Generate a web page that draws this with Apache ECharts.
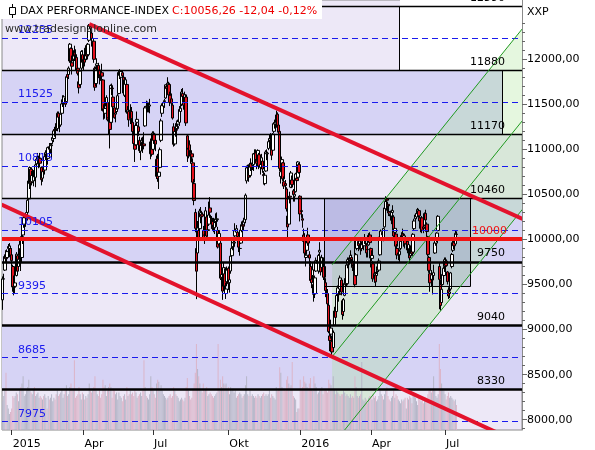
<!DOCTYPE html>
<html><head><meta charset="utf-8">
<script src="https://cdn.jsdelivr.net/npm/echarts@6/dist/echarts.min.js"></script>
<style>html,body{margin:0;padding:0;background:#fff}#c{width:595px;height:450px}</style>
</head><body><div id="c"></div>
<script>
// ---------- DATA ----------
// candles: [open, close, low, high]
const m201412=[[9330,9563,9219,9590],[9560,9564,9420,9620],[9660,9811,9650,9830],[9830,9787,9740,9880],[9800,9865,9760,9890],[9900,9922,9860,9950],[9900,9927,9850,9960],[9900,9806,9780,9930]];
const m201501=[[9830,9765,9700,9900],[9700,9473,9420,9720],[9480,9469,9380,9600],[9480,9518,9400,9570],[9600,9837,9590,9860],[9820,9648,9620,9830],[9700,9781,9680,9800],[9820,9941,9780,10010],[9900,9817,9650,9920],[9800,10032,9740,10050],[10050,10167,9950,10190],[10170,10242,10130,10260],[10240,10257,10140,10290],[10250,10299,10200,10350],[10300,10435,10210,10460],[10450,10649,10440,10680],[10620,10798,10560,10810],[10780,10628,10590,10800],[10640,10710,10600,10760],[10650,10738,10590,10770],[10760,10694,10650,10810]];
const m201502=[[10690,10828,10580,10840],[10840,10891,10780,10920],[10900,10911,10840,10960],[10880,10905,10790,10930],[10900,10846,10800,10960],[10800,10663,10600,10810],[10680,10753,10640,10780],[10790,10752,10700,10830],[10770,10919,10720,10960],[10930,10963,10880,10990],[10950,10924,10880,10990],[10900,11019,10830,11030],[11030,11001,10960,11070],[11000,11050,10950,11070],[11040,11050,10900,11070],[11100,11131,11060,11150],[11120,11205,11080,11220],[11220,11211,11140,11250],[11220,11210,11150,11290],[11230,11401,11200,11420]];
const m201503=[[11400,11356,11300,11420],[11340,11280,11190,11360],[11270,11390,11250,11400],[11400,11504,11370,11520],[11520,11551,11470,11600],[11520,11582,11460,11600],[11570,11500,11470,11610],[11530,11806,11520,11810],[11830,11799,11730,11860],[11830,11901,11780,11920],[11980,12167,11960,12180],[12120,11980,11930,12130],[11960,11922,11830,12040],[12000,12036,11940,12100],[12070,12039,11980,12150],[12050,12040,11990,12110],[12020,11876,11860,12050],[11900,11843,11820,11940],[11750,11683,11620,11800],[11720,11868,11700,11880],[11900,12086,11880,12100],[12050,11966,11930,12100]];
const m201504=[[11970,11998,11870,12030],[12000,11967,11920,12050],[12000,12123,11990,12150],[12150,12035,11990,12170],[12050,12166,12020,12180],[12210,12375,12190,12390],[12370,12339,12290,12390],[12290,12227,12140,12330],[12200,12231,12130,12290],[12200,11999,11960,12210],[11900,11689,11650,11920],[11730,11892,11700,11920],[11930,11949,11870,12010],[11930,11868,11790,11960],[11880,11811,11720,11900],[11830,11810,11760,11880],[11850,11812,11770,11950],[11770,11432,11420,11780],[11450,11432,11330,11500],[11400,11454,11340,11530]];
const m201505=[[11480,11575,11440,11600],[11520,11327,11310,11560],[11350,11350,11160,11430],[11300,11221,11010,11310],[11300,11709,11290,11720],[11680,11673,11600,11730],[11580,11472,11300,11600],[11460,11351,11340,11530],[11390,11403,11300,11440],[11420,11447,11400,11530],[11450,11595,11420,11620],[11620,11853,11610,11870],[11820,11848,11780,11890],[11800,11864,11760,11880],[11850,11815,11790,11880],[11800,11625,11600,11820],[11600,11771,11580,11800],[11720,11772,11680,11800],[11720,11413,11400,11740]];
const m201506=[[11400,11436,11330,11480],[11420,11327,11250,11470],[11340,11419,11280,11500],[11420,11340,11250,11470],[11300,11197,11150,11360],[11160,11065,11030,11220],[11050,11001,10860,11080],[11050,11265,11040,11290],[11300,11333,11260,11420],[11250,11197,11150,11300],[11100,10985,10960,11140],[10980,11045,10880,11080],[11080,11100,10990,11130],[11050,11041,10960,11140],[11060,11040,11000,11190],[11260,11460,11250,11480],[11480,11472,11420,11540],[11470,11471,11410,11530],[11470,11473,11410,11520],[11480,11492,11400,11560],[10950,11083,10890,11120],[11100,10945,10920,11150]];
const m201507=[[11000,11180,10990,11200],[11170,11099,11060,11200],[11100,11058,10980,11140],[10700,10890,10670,10930],[10900,10676,10640,10950],[10700,10747,10560,10790],[10800,10996,10790,11020],[11100,11316,11080,11340],[11400,11485,11360,11510],[11480,11516,11440,11540],[11530,11539,11460,11560],[11570,11716,11560,11720],[11700,11673,11630,11730],[11690,11734,11660,11800],[11720,11604,11580,11750],[11600,11521,11480,11640],[11560,11512,11460,11620],[11490,11347,11330,11520],[11250,11056,11030,11290],[11060,11198,11040,11230],[11220,11212,11140,11290],[11230,11257,11120,11320],[11280,11308,11230,11330]];
const m201508=[[11300,11443,11260,11480],[11420,11456,11370,11520],[11500,11636,11480,11670],[11620,11585,11540,11680],[11570,11490,11440,11600],[11520,11605,11490,11640],[11580,11293,11260,11610],[11150,10925,10860,11170],[11000,11014,10900,11120],[11050,10985,10920,11100],[10960,10940,10840,11010],[10950,10915,10860,10990],[10850,10636,10600,10900],[10620,10432,10380,10670],[10300,10124,10080,10340],[9900,9648,9338,10000],[9850,10128,9800,10205],[10100,9997,9900,10230],[10120,10315,10080,10340],[10250,10298,10180,10360],[10280,10259,10150,10310]];
const m201509=[[10100,10016,9990,10150],[10050,10048,9950,10130],[10080,10318,10070,10360],[10250,10038,10000,10290],[10100,10108,10030,10180],[10170,10271,10150,10420],[10350,10303,10240,10470],[10220,10210,10120,10260],[10200,10123,10100,10240],[10160,10131,10080,10240],[10130,10188,10060,10230],[10200,10227,10140,10290],[10220,10229,10140,10300],[10100,9916,9900,10140],[9950,10066,9930,10100],[9960,9571,9550,9990],[9580,9612,9500,9700],[9550,9427,9330,9590],[9480,9688,9470,9740],[9620,9484,9420,9680],[9400,9450,9340,9520],[9530,9660,9500,9700]];
const m201510=[[9680,9509,9440,9700],[9520,9553,9410,9600],[9650,9815,9620,9830],[9820,9902,9780,9930],[9920,9994,9880,10020],[9960,9970,9880,10030],[10040,10096,10020,10180],[10080,10119,10060,10160],[10080,10032,9980,10120],[9990,9915,9860,10020],[9900,9900,9820,9960],[9960,10104,9950,10120],[10100,10164,10080,10200],[10160,10147,10090,10210],[10190,10238,10150,10280],[10220,10491,10180,10510],[10650,10795,10620,10820],[10800,10801,10740,10830],[10760,10692,10640,10780],[10710,10832,10690,10850],[10840,10801,10760,10900],[10820,10850,10770,10880]];
const m201511=[[10830,10951,10760,10960],[10950,10951,10880,11000],[10960,10887,10850,11000],[10870,10845,10780,10930],[10880,10988,10850,11000],[10940,10815,10780,10960],[10800,10832,10720,10860],[10860,10907,10830,10950],[10870,10782,10740,10900],[10720,10708,10610,10760],[10620,10713,10600,10740],[10760,10971,10750,10990],[10950,10959,10880,11000],[11010,11085,10990,11120],[11100,11119,11050,11160],[11100,11092,11050,11180],[11060,10934,10880,11090],[10990,11169,10980,11180],[11200,11285,11180,11300],[11280,11293,11230,11330],[11300,11382,11240,11430]];
const m201512=[[11390,11261,11230,11410],[11270,11190,11130,11300],[11200,10789,10760,11240],[10700,10752,10620,10810],[10800,10886,10780,10920],[10850,10673,10650,10860],[10640,10592,10560,10700],[10620,10598,10530,10660],[10560,10340,10310,10580],[10260,10139,10000,10310],[10170,10451,10160,10480],[10480,10469,10400,10530],[10580,10738,10570,10760],[10660,10608,10570,10710],[10540,10497,10420,10560],[10480,10502,10420,10550],[10530,10727,10520,10740],[10680,10653,10600,10700],[10690,10860,10680,10870],[10830,10743,10730,10850]];
const m201601=[[10480,10283,10200,10490],[10320,10310,10240,10400],[10230,10214,10130,10280],[10050,9979,9890,10120],[10000,9849,9810,10070],[9800,9825,9700,9920],[9880,9985,9830,10050],[10050,9960,9930,10130],[9830,9794,9700,9870],[9700,9545,9520,9760],[9560,9521,9460,9600],[9600,9664,9560,9740],[9500,9392,9310,9600],[9400,9574,9350,9600],[9650,9764,9640,9800],[9770,9736,9700,9800],[9650,9823,9620,9840],[9860,9880,9800,9970],[9800,9640,9600,9810],[9690,9798,9640,9830]];
const m201602=[[9760,9757,9680,9800],[9700,9581,9550,9720],[9520,9434,9360,9570],[9400,9393,9330,9480],[9400,9286,9260,9450],[9270,8979,8960,9300],[8930,8879,8760,9000],[8950,9017,8900,9110],[8870,8752,8699,8900],[8800,8967,8780,8990],[9050,9206,9040,9220],[9250,9135,9100,9330],[9200,9378,9180,9400],[9400,9463,9360,9490],[9400,9388,9310,9430],[9450,9573,9440,9600],[9550,9416,9380,9570],[9320,9167,9110,9340],[9200,9331,9150,9350],[9380,9513,9370,9570],[9500,9495,9420,9580]];
const m201603=[[9510,9717,9480,9740],[9720,9776,9680,9800],[9750,9751,9700,9800],[9780,9824,9750,9880],[9800,9778,9690,9830],[9750,9692,9650,9790],[9700,9723,9640,9760],[9760,9498,9470,9990],[9600,9831,9590,9850],[9900,9990,9880,10020],[9980,9933,9870,9990],[9950,9983,9900,10000],[9950,9892,9830,9990],[9900,9950,9870,9980],[9940,9948,9900,10000],[9930,9990,9880,10010],[9990,10022,9950,10060],[9930,9851,9800,9960],[9890,9887,9800,9930],[9940,10046,9930,10070],[10050,9965,9950,10080]];
const m201604=[[9900,9794,9690,9910],[9790,9822,9760,9880],[9730,9563,9530,9760],[9570,9624,9520,9650],[9610,9530,9480,9640],[9600,9622,9560,9700],[9650,9682,9610,9730],[9660,9761,9640,9790],[9830,10027,9820,10040],[10020,10093,10010,10110],[10080,10051,10010,10120],[10000,10120,9980,10130],[10140,10350,10130,10360],[10340,10421,10300,10480],[10450,10435,10320,10470],[10390,10373,10300,10420],[10310,10294,10260,10380],[10280,10260,10210,10320],[10260,10299,10170,10330],[10300,10321,10200,10380],[10250,10039,10020,10270]];
const m201605=[[10080,10123,9990,10160],[10060,9926,9880,10080],[9900,9828,9780,9950],[9830,9851,9770,9900],[9830,9870,9740,9890],[9900,9980,9880,10000],[10010,10045,9960,10080],[10060,10021,9990,10120],[10010,10041,9920,10070],[10010,9952,9900,10030],[9950,9952,9880,9990],[9980,9890,9870,10010],[9850,9943,9820,9960],[9900,9795,9750,9910],[9820,9916,9810,9930],[9930,9842,9820,9960],[9860,10057,9850,10070],[10120,10205,10100,10230],[10230,10272,10200,10290],[10250,10287,10230,10300],[10290,10333,10280,10350],[10320,10262,10240,10340]];
const m201606=[[10240,10205,10120,10260],[10190,10208,10080,10220],[10240,10103,10070,10260],[10140,10121,10070,10200],[10160,10288,10150,10300],[10290,10217,10200,10330],[10170,10088,10030,10190],[10030,9834,9810,10040],[9800,9657,9630,9820],[9620,9519,9420,9650],[9550,9607,9480,9660],[9560,9550,9390,9600],[9600,9631,9550,9720],[9850,9962,9840,10000],[9960,10015,9930,10060],[10020,10071,9970,10080],[10100,10257,10090,10270],[9700,9557,9226,9750],[9500,9268,9210,9550],[9300,9448,9280,9470],[9500,9612,9490,9630],[9600,9680,9560,9700]];
const m201607=[[9700,9776,9640,9800],[9760,9709,9650,9800],[9640,9532,9500,9650],[9440,9373,9340,9470],[9400,9418,9350,9510],[9450,9629,9430,9640],[9700,9833,9680,9850],[9880,9964,9860,9990],[9970,9930,9890,10010],[9950,10068,9940,10100],[10060,10056,10000,10090]];

// volume (millions)
const v201412=[80,95,110,160,70,60,45,50];
const v201501=[60,95,90,95,105,100,80,110,120,130,150,95,100,110,120,140,110,105,100,115,120];
const v201502=[95,100,105,90,95,90,85,95,100,90,60,95,85,90,100,80,90,85,100,110];
const v201503=[95,100,105,115,90,100,110,125,95,100,120,130,110,115,195,90,95,100,120,100,85,105];
const v201504=[100,85,95,90,100,130,110,105,110,120,150,110,100,95,110,90,100,140,120,125];
const v201505=[95,110,120,130,120,90,115,110,100,105,85,105,95,90,80,95,100,85,120];
const v201506=[95,100,110,100,105,95,110,105,90,95,100,105,95,110,195,120,95,90,85,100,150,120];
const v201507=[110,100,90,130,140,135,115,125,110,100,95,90,85,90,95,100,90,95,120,110,100,95,90];
const v201508=[80,85,90,85,80,90,120,145,110,95,85,90,115,130,160,240,170,150,130,110,105];
const v201509=[130,110,115,120,95,100,105,100,95,90,95,100,105,240,110,140,120,150,130,125,130,115];
const v201510=[120,100,120,110,115,105,110,90,95,100,105,100,90,95,100,125,150,100,95,110,95,100];
const v201511=[95,90,95,90,100,95,90,95,100,105,95,100,95,100,110,90,100,95,90,85,120];
const v201512=[110,115,175,160,120,110,115,110,140,150,130,120,125,190,95,90,85,50,60,60];
const v201601=[140,115,120,150,135,130,120,115,130,145,115,110,150,130,120,100,105,110,115,120];
const v201602=[100,110,115,110,105,140,130,125,110,150,115,100,110,105,100,95,100,100,110,105,95];
const v201603=[100,95,90,100,90,95,90,150,120,95,90,95,100,190,85,80,90,85,75,90,95];
const v201604=[95,85,100,90,95,80,85,95,110,100,95,85,100,110,120,95,85,80,90,95,110];
const v201605=[90,100,95,85,80,75,85,80,85,90,60,90,85,95,90,75,95,100,90,80,70,95];
const v201606=[85,80,90,75,85,90,85,100,110,115,105,110,150,110,95,90,100,240,170,130,115,110];
const v201607=[100,85,95,105,90,95,90,85,80,85,70];

// calendar
const firstDay='2014-12-16', lastDay='2016-07-15';
const holidays=['2014-12-24','2014-12-25','2014-12-26','2014-12-31','2015-01-01','2015-04-03','2015-04-06','2015-05-01','2015-05-25','2015-12-24','2015-12-25','2015-12-31','2016-01-01','2016-03-25','2016-03-28'];
const padSlots=57;
const xTicks=[['2015-01-02','2015'],['2015-04-01','Apr'],['2015-07-01','Jul'],['2015-10-01','Okt'],['2016-01-04','2016'],['2016-04-01','Apr'],['2016-07-01','Jul']];
const yLabels=[8000,8500,9000,9500,10000,10500,11000,11500,12000];
const yMinorTicks=[7900,8100,8200,8300,8400,8600,8700,8800,8900,9100,9200,9300,9400,9600,9700,9800,9900,10100,10200,10300,10400,10600,10700,10800,10900,11100,11200,11300,11400,11600,11700,11800,11900,12100,12200,12300,12400];

// levels
const solidLevels=[12590,11880,11170,10460,9750,9040,8330];
const dashedLevels=[12235,11525,10815,10105,9395,8685,7975];
const keyLevel=10000;
// shaded bands [fromIdx, toIdx, top, bottom]
const darkBands=[[-0.5,438.8,11880,11170],[-0.5,455.5,10460,9750],[-0.5,455.5,9040,8330]];
const whiteBoxes=[[348.5,455.5,12657,11880],[438.8,455.5,11880,11170]];
const rangeBox=[282.7,409.9,10460,9473];
// trend lines [[idx,value],[idx,value]]
const trendUpper=[[76,12390],[456,10228]];
const trendLower=[[-1,10387],[456,7727]];
const chanTop=[[289,9719],[456,12341]];
const chanMid=[[289,8699],[456,11321]];
const chanBot=[[289,7714],[456,10336]];

const Y_MIN=7886, Y_MAX=12657;
const FONT='11px "DejaVu Sans"';

// ---------- build ----------
const ohlc=[].concat(m201412,m201501,m201502,m201503,m201504,m201505,m201506,m201507,m201508,m201509,m201510,m201511,m201512,m201601,m201602,m201603,m201604,m201605,m201606,m201607);
const vols=[].concat(v201412,v201501,v201502,v201503,v201504,v201505,v201506,v201507,v201508,v201509,v201510,v201511,v201512,v201601,v201602,v201603,v201604,v201605,v201606,v201607);
const cats=[];
(function(){const hol=new Set(holidays);let t=Date.parse(firstDay+'T00:00:00Z');const end=Date.parse(lastDay+'T00:00:00Z');
 while(t<=end){const d=new Date(t);const wd=d.getUTCDay();const s=d.toISOString().slice(0,10);if(wd!==0&&wd!==6&&!hol.has(s))cats.push(s);t+=86400000;}
 for(let i=0;i<padSlots;i++)cats.push('pad'+i);})();
const tickMap={};xTicks.forEach(t=>tickMap[t[0]]=t[1]);

function helpers(api){const x0=api.coord([0,Y_MIN])[0];const bw=api.size([1,0])[0];return{X:i=>x0+i*bw,Y:v=>api.coord([0,v])[1]};}
const snap=(p,w)=>(Math.round(w)%2===1)?Math.round(p-0.5)+0.5:Math.round(p);

function renderBg(params,api){
 const {X,Y}=helpers(api);const kids=[];
 const rect=(b,fill)=>{const x1=X(b[0]),x2=X(b[1]),y1=Y(b[2]),y2=Y(b[3]);kids.push({type:'rect',shape:{x:Math.min(x1,x2),y:Math.min(y1,y2),width:Math.abs(x2-x1),height:Math.abs(y2-y1)},style:{fill:fill}});};
 darkBands.forEach(b=>rect(b,'#d6d3f5'));
 whiteBoxes.forEach(b=>rect(b,'#ffffff'));
 const poly=[chanTop[0],chanTop[1],chanBot[1],chanBot[0]].map(p=>[X(p[0]),Y(p[1])]);
 kids.push({type:'polygon',shape:{points:poly},style:{fill:'rgba(170,228,150,0.30)'}});
 rect(rangeBox,'rgba(95,105,170,0.22)');
 return {type:'group',children:kids};
}
function renderLines(params,api){
 const {X,Y}=helpers(api);const kids=[];
 const xl=X(-0.5), xr=X(455.5);
 const hline=(v,color,w,dash)=>{const y=snap(Y(v),w);kids.push({type:'line',shape:{x1:xl,y1:y,x2:xr,y2:y},style:{stroke:color,lineWidth:w,lineDash:dash||null}});};
 const vline=(i,v1,v2)=>{const x=snap(X(i),1);kids.push({type:'line',shape:{x1:x,y1:Y(v1),x2:x,y2:Y(v2)},style:{stroke:'#000',lineWidth:1}});};
 const seg=(a,color,w)=>kids.push({type:'line',shape:{x1:X(a[0][0]),y1:Y(a[0][1]),x2:X(a[1][0]),y2:Y(a[1][1])},style:{stroke:color,lineWidth:w}});
 const txt=(s,x,v,color,align,dy)=>kids.push({type:'text',style:{text:s,x:x,y:Y(v)-dy,fill:color,font:FONT,align:align,verticalAlign:'bottom'}});
 dashedLevels.forEach(v=>hline(v,'#1a1aee',1,[6,4]));
 solidLevels.forEach((v,i)=>hline(v,'#000',i<4?1.4:2.6));
 vline(348.5,12590,11880); vline(438.8,11880,11170);
 const rx1=snap(X(rangeBox[0]),1),rx2=snap(X(rangeBox[1]),1),ry1=snap(Y(rangeBox[2]),1),ry2=snap(Y(rangeBox[3]),1);
 kids.push({type:'rect',shape:{x:rx1,y:ry1,width:rx2-rx1,height:ry2-ry1},style:{fill:null,stroke:'#000',lineWidth:1}});
 seg(chanTop,'#1f9a1f',1); seg(chanMid,'#1f9a1f',1); seg(chanBot,'#1f9a1f',1);
 hline(keyLevel,'#f01414',4);
 seg(trendUpper,'#e3122c',4); seg(trendLower,'#e3122c',4);
 const lx=X(-0.5)+16, rxLab=X(438.8)+2;
 dashedLevels.forEach(v=>txt(String(v),lx,v,'#1a1aee','left',2));
 solidLevels.forEach((v,i)=>txt(String(v),rxLab,v,'#000','right',i<4?2:3));
 txt(String(keyLevel),rxLab+2,keyLevel,'#f01414','right',3);
 return {type:'group',children:kids};
}

const candleData=ohlc;
const volData=vols.map((v,i)=>({value:v,itemStyle:{color:ohlc[i][1]>=ohlc[i][0]?'#b6b6c8':'#dbb5c9'}}));
const fmt=v=>v.toFixed(2).replace('.',',');

const chart=echarts.init(document.getElementById('c'),null,{renderer:'canvas'});
chart.setOption({
 animation:false,
 grid:{left:2,right:73,top:0,bottom:20,show:true,backgroundColor:'#ede8f7',borderColor:'#8a8a8a',borderWidth:1},
 xAxis:{type:'category',data:cats,boundaryGap:true,
  axisLine:{show:false},
  axisTick:{show:true,alignWithLabel:true,length:5,interval:(i,v)=>!!tickMap[v],lineStyle:{color:'#333'}},
  axisLabel:{interval:(i,v)=>!!tickMap[v],formatter:v=>tickMap[v]||'',align:'left',margin:9,color:'#000',fontFamily:'DejaVu Sans',fontSize:11,padding:[0,0,0,1]},
  splitLine:{show:false}},
 yAxis:[
  {type:'value',position:'right',min:Y_MIN,max:Y_MAX,splitLine:{show:false},
   axisLine:{show:true,lineStyle:{color:'#8a8a8a'}},
   axisTick:{show:true,length:5,customValues:yLabels,lineStyle:{color:'#666'}},
   axisLabel:{customValues:yLabels,formatter:fmt,color:'#000',fontFamily:'DejaVu Sans',fontSize:11,margin:5}},
  {type:'value',position:'right',min:Y_MIN,max:Y_MAX,splitLine:{show:false},axisLine:{show:false},
   axisTick:{show:true,length:3,customValues:yMinorTicks,lineStyle:{color:'#666'}},axisLabel:{show:false}},
  {type:'value',min:0,max:1200,show:false,splitLine:{show:false}}
 ],
 series:[
  {type:'custom',name:'bg',coordinateSystem:'cartesian2d',xAxisIndex:0,yAxisIndex:0,data:[[0,10000]],renderItem:renderBg,clip:true,silent:true,z:1},
  {type:'bar',name:'vol',xAxisIndex:0,yAxisIndex:2,data:volData,barWidth:1,silent:true,z:2},
  {type:'candlestick',name:'DAX',xAxisIndex:0,yAxisIndex:0,data:candleData,barWidth:3,silent:true,z:3,
   itemStyle:{color:'#ffffff',color0:'#e4101c',borderColor:'#000',borderColor0:'#000',borderWidth:1}},
  {type:'custom',name:'lines',coordinateSystem:'cartesian2d',xAxisIndex:0,yAxisIndex:0,data:[[0,10000]],renderItem:renderLines,clip:true,silent:true,z:4}
 ],
 graphic:[
  {type:'rect',z:100,shape:{x:0,y:0,width:322,height:19},style:{fill:'#fff'}},
  {type:'line',z:101,shape:{x1:12.5,y1:4,x2:12.5,y2:18},style:{stroke:'#000',lineWidth:1}},
  {type:'rect',z:102,shape:{x:9.5,y:7.5,width:6,height:7},style:{fill:'#fff',stroke:'#000',lineWidth:1}},
  {type:'text',z:101,x:20,y:11,style:{text:'DAX PERFORMANCE-INDEX',fill:'#000',font:FONT,verticalAlign:'middle'}},
  {type:'text',z:101,x:172,y:11,style:{text:'C:10056,26 -12,04 -0,12%',fill:'#ee0000',font:FONT,verticalAlign:'middle'}},
  {type:'text',z:101,x:5,y:29,style:{text:'www.tradesignalonline.com',fill:'#2a2a2a',font:FONT,verticalAlign:'middle'}},
  {type:'text',z:101,x:527,y:12,style:{text:'XXP',fill:'#000',font:FONT,verticalAlign:'middle'}}
 ]
});
</script></body></html>
